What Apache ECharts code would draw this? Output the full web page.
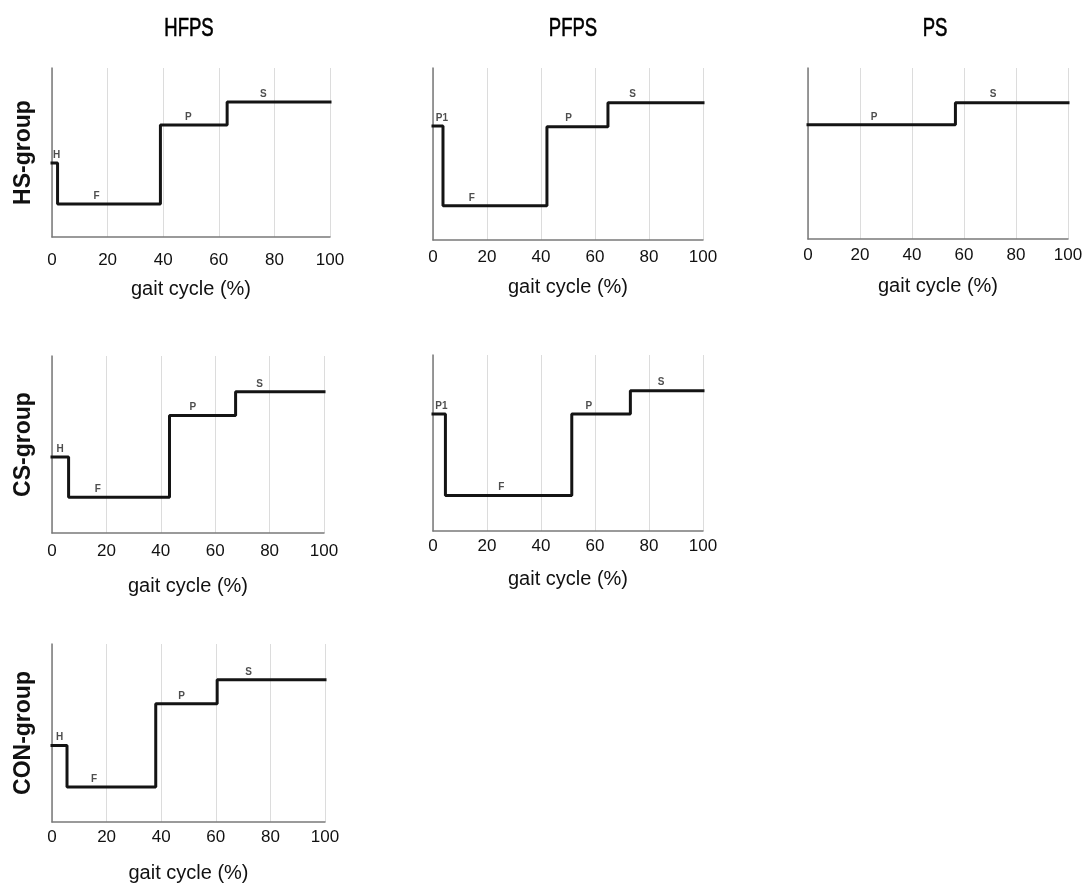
<!DOCTYPE html>
<html>
<head>
<meta charset="utf-8">
<title>Gait phases by group</title>
<script src="https://cdn.jsdelivr.net/npm/echarts@6/dist/echarts.min.js"></script>
<style>
  html, body { margin: 0; padding: 0; background: #fff; }
  #chart { width: 1089px; height: 884px; }
</style>
</head>
<body>
<div id="chart"></div>
<script>
// headers
const columnTitles = ['HFPS', 'PFPS', 'PS'];
const rowNames = ['HS-group', 'CS-group', 'CON-group'];
const xTicks = [0, 20, 40, 60, 80, 100];
const xAxisName = 'gait cycle (%)';

// per panel: phase letters, start of each phase (% gait cycle), level, x of the letter
const hsHfpsPhases = ['H', 'F', 'P', 'S'];
const hsHfpsStart = [0, 2, 39, 63];
const hsHfpsLevel = [43.8, 19.5, 66.3, 79.9];
const hsHfpsLabelX = [1.7, 16, 49, 76];

const hsPfpsPhases = ['P1', 'F', 'P', 'S'];
const hsPfpsStart = [0, 3.7, 42.2, 64.8];
const hsPfpsLevel = [66.3, 19.9, 65.9, 79.8];
const hsPfpsLabelX = [3.3, 14.4, 50.2, 73.9];

const hsPsPhases = ['P', 'S'];
const hsPsStart = [0, 56.7];
const hsPsLevel = [66.8, 79.7];
const hsPsLabelX = [25.4, 71.2];

const csHfpsPhases = ['H', 'F', 'P', 'S'];
const csHfpsStart = [0, 6.1, 43.2, 67.5];
const csHfpsLevel = [43.0, 20.2, 66.4, 79.8];
const csHfpsLabelX = [3, 16.8, 51.8, 76.3];

const csPfpsPhases = ['P1', 'F', 'P', 'S'];
const csPfpsStart = [0, 4.6, 51.4, 73.1];
const csPfpsLevel = [66.5, 20.1, 66.5, 79.7];
const csPfpsLabelX = [3.1, 25.3, 57.7, 84.5];

const conHfpsPhases = ['H', 'F', 'P', 'S'];
const conHfpsStart = [0, 5.5, 38, 60.5];
const conHfpsLevel = [43.0, 19.6, 66.4, 79.9];
const conHfpsLabelX = [2.8, 15.4, 47.5, 72];

const FONT = '"Liberation Sans", Arial, sans-serif';
const LINE_COLOR = '#141414';

const panels = [
  { phases: hsHfpsPhases, start: hsHfpsStart, level: hsHfpsLevel, labelX: hsHfpsLabelX,
    box: { left: 52, top: 68, width: 278, height: 169 }, tickGap: 15, nameGap: 42, row: 0 },
  { phases: hsPfpsPhases, start: hsPfpsStart, level: hsPfpsLevel, labelX: hsPfpsLabelX,
    box: { left: 433, top: 68, width: 270, height: 172 }, tickGap: 9, nameGap: 37 },
  { phases: hsPsPhases, start: hsPsStart, level: hsPsLevel, labelX: hsPsLabelX,
    box: { left: 808, top: 68, width: 260, height: 171 }, tickGap: 8, nameGap: 37 },
  { phases: csHfpsPhases, start: csHfpsStart, level: csHfpsLevel, labelX: csHfpsLabelX,
    box: { left: 52, top: 356, width: 272, height: 177 }, tickGap: 10, nameGap: 43, row: 1 },
  { phases: csPfpsPhases, start: csPfpsStart, level: csPfpsLevel, labelX: csPfpsLabelX,
    box: { left: 433, top: 355, width: 270, height: 176 }, tickGap: 7, nameGap: 38 },
  { phases: conHfpsPhases, start: conHfpsStart, level: conHfpsLevel, labelX: conHfpsLabelX,
    box: { left: 52, top: 644, width: 273, height: 179 }, tickGap: 7, nameGap: 41, row: 2 },
];

const grid = [], xAxis = [], yAxis = [], series = [];

panels.forEach((p, i) => {
  grid.push(Object.assign({}, p.box));

  xAxis.push({
    gridIndex: i,
    type: 'value',
    min: xTicks[0],
    max: xTicks[xTicks.length - 1],
    interval: 20,
    name: xAxisName,
    nameLocation: 'middle',
    nameGap: p.nameGap,
    nameTextStyle: { fontFamily: FONT, fontSize: 20, color: '#111' },
    axisLine: { show: true, onZero: false, lineStyle: { color: '#7a7a7a', width: 1.5 } },
    axisTick: { show: false },
    axisLabel: { fontFamily: FONT, fontSize: 17, color: '#111', margin: p.tickGap },
    splitLine: { show: true, lineStyle: { color: '#dcdcdc', width: 1 } },
  });

  yAxis.push({
    gridIndex: i,
    type: 'value',
    min: 0,
    max: 100,
    name: p.row !== undefined ? rowNames[p.row] : '',
    nameLocation: 'middle',
    nameRotate: 90,
    nameGap: 17,
    nameTextStyle: { fontFamily: FONT, fontSize: 23, fontWeight: 'bold', color: '#111' },
    axisLine: { show: true, lineStyle: { color: '#7a7a7a', width: 1.5 } },
    axisTick: { show: false },
    axisLabel: { show: false },
    splitLine: { show: false },
  });

  // step line: each phase holds its level until the next phase starts
  const pts = p.start.map((x, k) => [x, p.level[k]]);
  pts.push([100, p.level[p.level.length - 1]]);
  series.push({
    type: 'line',
    xAxisIndex: i,
    yAxisIndex: i,
    step: 'end',
    data: pts,
    symbol: 'none',
    lineStyle: { color: LINE_COLOR, width: 3, cap: 'square' },
    z: 3,
  });

  // phase letters above each segment
  series.push({
    type: 'scatter',
    xAxisIndex: i,
    yAxisIndex: i,
    symbolSize: 0,
    data: p.phases.map((name, k) => ({ name, value: [p.labelX[k], p.level[k]] })),
    label: {
      show: true,
      position: 'top',
      distance: 3,
      formatter: '{b}',
      fontFamily: FONT,
      fontSize: 10,
      fontWeight: 'bold',
      color: '#222',
    },
    z: 4,
  });
});

// column titles, squeezed horizontally to get a narrow face
const titleX = [189, 573, 935];
const graphic = columnTitles.map((t, i) => ({
  type: 'text',
  x: titleX[i],
  y: 29,
  scaleX: 0.74,
  style: {
    text: t,
    align: 'center',
    verticalAlign: 'middle',
    font: 'normal 25px "Liberation Sans", Arial, sans-serif',
    fill: '#000',
    stroke: '#000',
    lineWidth: 0.6,
  },
}));

const chart = echarts.init(document.getElementById('chart'));
chart.setOption({
  animation: false,
  backgroundColor: '#fff',
  grid,
  xAxis,
  yAxis,
  series,
  graphic,
});
</script>
</body>
</html>
